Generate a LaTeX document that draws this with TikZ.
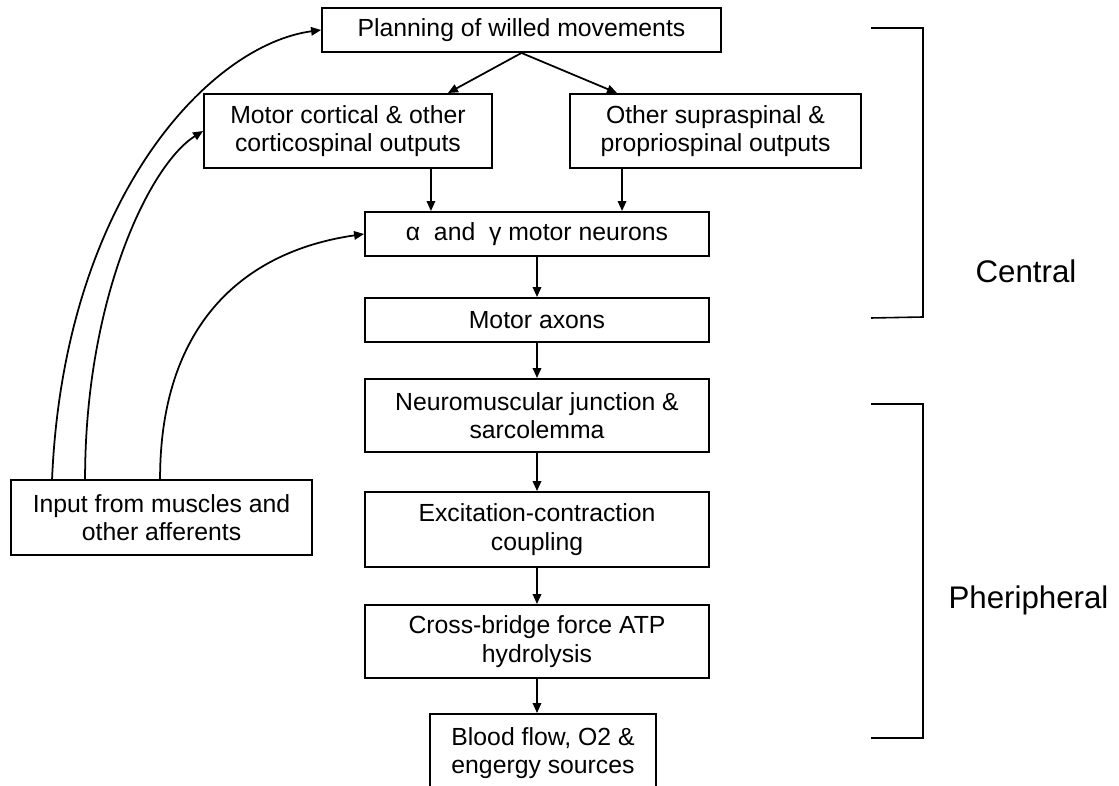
\documentclass[tikz,border=0pt]{standalone}
\usepackage{fontspec}
\setmainfont{Liberation Sans}
\usepackage{tikz}
\usetikzlibrary{calc,arrows.meta}
\definecolor{ink}{HTML}{000000}
\tikzset{
  blk/.style={draw=ink, line width=1.1pt, fill=white, align=center, inner sep=0pt,
    font=\fontsize{14.1}{16.1}\selectfont},
  link/.style={draw=ink, line width=1pt, -{Triangle[length=0.2cm,width=0.17cm]}},
  brk/.style={draw=ink, line width=0.9pt},
  lab/.style={text=ink, font=\fontsize{17.8}{20}\selectfont}
}
\begin{document}
\begin{tikzpicture}[x=0.02cm,y=-0.02cm]
  \useasboundingbox (0,0) rectangle (1119,786);
  \fill[white] (0,0) rectangle (1119,786);

  % central chain
  \node[blk, minimum width=7.98cm, minimum height=0.88cm] (plan) at (521.5,30) {Planning of willed movements};
  \node[blk, minimum width=5.76cm, minimum height=1.48cm] (cort) at (348,131) {Motor cortical \& other\\corticospinal outputs};
  \node[blk, minimum width=5.82cm, minimum height=1.48cm] (supra) at (715.5,131) {Other supraspinal \&\\propriospinal outputs};
  \node[blk, minimum width=6.88cm, minimum height=0.88cm] (mn) at (537,234) {α\ \ and\ \ γ motor neurons};
  \node[blk, minimum width=6.88cm, minimum height=0.88cm] (axon) at (537,320) {Motor axons};

  % peripheral chain
  \node[blk, minimum width=6.88cm, minimum height=1.46cm] (nmj) at (537,415.5) {Neuromuscular junction \&\\sarcolemma};
  \node[blk, minimum width=6.88cm, minimum height=1.5cm] (ecc) at (537,529.5) {Excitation-contraction\\coupling};
  \node[blk, minimum width=6.88cm, minimum height=1.46cm] (xb) at (537,641.5) {Cross-bridge force ATP\\hydrolysis};
  \node[blk, minimum width=4.52cm, minimum height=1.56cm] (blood) at (543,753) {Blood flow, O2 \&\\engergy sources};

  \node[blk, minimum width=6.02cm, minimum height=1.5cm] (inp) at (161.5,517.5) {Input from muscles and\\other afferents};

  % arrows
  \draw[link] (plan.south) -- ([xshift=-0.9cm]cort.north east);
  \draw[link] (plan.south) -- ([xshift=0.96cm]supra.north west);
  \draw[link] ([xshift=-1.24cm]cort.south east) coordinate (c1) -- (c1 |- mn.north);
  \draw[link] ([xshift=1.06cm]supra.south west) coordinate (c2) -- (c2 |- mn.north);
  \draw[link] (mn.south) -- (axon.north);
  \draw[link] (axon.south) -- (nmj.north);
  \draw[link] (nmj.south) -- (ecc.north);
  \draw[link] (ecc.south) -- (xb.north);
  \draw[link] (xb.south) -- (xb.south |- blood.north);

  % feedback from afferents
  \draw[link] ($(inp.north west)+(42,0)$) .. controls +(12,-280) and +(-112,15) .. (plan.west);
  \draw[link] ($(inp.north west)+(75,0)$) .. controls +(0,-180) and +(-54,34) .. (cort.west);
  \draw[link] ($(inp.north west)+(150,0)$) .. controls +(0,-150) and +(-125,18) .. (mn.west);

  % brackets
  \draw[brk] (871,28) -- (923,28) -- (923,317) -- (871,318);
  \draw[brk] (871,404) -- (923,404) -- (923,738) -- (871,738);
  \node[lab] (cen) at (1026,271) {Central};
  \node[lab] (per) at (1028.5,600) {Pheripheral};
\end{tikzpicture}
\end{document}
